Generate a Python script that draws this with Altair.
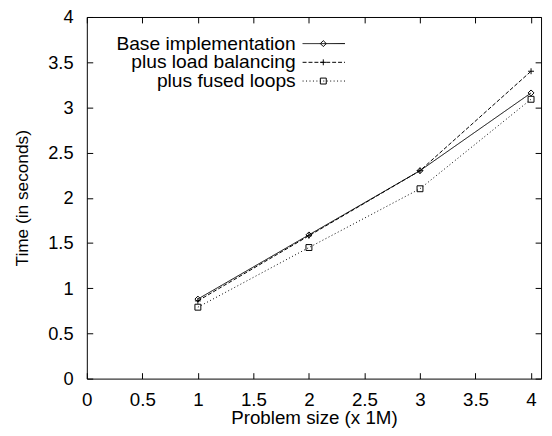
import altair as alt
import pandas as pd

sizes = [1, 2, 3, 4]
base_impl = [0.88, 1.59, 2.30, 3.16]
load_bal = [0.86, 1.58, 2.30, 3.40]
fused = [0.79, 1.45, 2.10, 3.09]
series_names = ["Base implementation", "plus load balancing", "plus fused loops"]
tick_vals = [0, 0.5, 1, 1.5, 2, 2.5, 3, 3.5, 4]

rows = []
for name, vals in zip(series_names, [base_impl, load_bal, fused]):
    for s, v in zip(sizes, vals):
        rows.append({"size": s, "time": v, "series": name})
df = pd.DataFrame(rows)

FONT = "Liberation Sans"
plus_path = "M-1,0L1,0M0,-1L0,1"
shapes = ["diamond", plus_path, "square"]
dashes = [[1, 0], [4, 2], [1, 2.5]]

xscale = alt.Scale(domain=[0, 4.09], nice=False, zero=False)
yscale = alt.Scale(domain=[0, 4], nice=False)

common_axis = dict(domain=False, grid=False, tickSize=6, offset=-6, tickColor="black",
                   tickWidth=1, labelColor="black", labelFont=FONT, titleFont=FONT,
                   titleColor="black", titleFontWeight="normal", values=tick_vals,
                   format="~g", labelFlush=False)

xaxis = alt.Axis(orient="bottom", labelFontSize=19, labelPadding=12, title="Problem size (x 1M)",
                 titleFontSize=19, titlePadding=0, **common_axis)
yaxis = alt.Axis(orient="left", labelFontSize=18.5, labelPadding=14, title="Time (in seconds)",
                 titleFontSize=17.5, titlePadding=16, **common_axis)
xaxis_top = alt.Axis(orient="top", labels=False, title=None, **common_axis)
yaxis_right = alt.Axis(orient="right", labels=False, title=None, **common_axis)

series_scale_dash = alt.Scale(domain=series_names, range=dashes)
series_scale_shape = alt.Scale(domain=series_names, range=shapes)

lines = alt.Chart(df).mark_line(color="black", strokeWidth=1).encode(
    x=alt.X("size:Q", scale=xscale, axis=xaxis),
    y=alt.Y("time:Q", scale=yscale, axis=yaxis),
    strokeDash=alt.StrokeDash("series:N", scale=series_scale_dash, legend=None),
    detail="series:N",
)

mirror = alt.Chart(df).mark_point(opacity=0).encode(
    x=alt.X("size:Q", scale=xscale, axis=xaxis_top),
    y=alt.Y("time:Q", scale=yscale, axis=yaxis_right),
)

points = alt.Chart(df).mark_point(color="black", filled=False, strokeWidth=1, size=36, opacity=1).encode(
    x=alt.X("size:Q", scale=xscale, axis=None),
    y=alt.Y("time:Q", scale=yscale, axis=None),
    shape=alt.Shape("series:N", scale=series_scale_shape, legend=None),
)

legend_layers = []
row_y = [27, 46, 65]
for i, name in enumerate(series_names):
    ldf = pd.DataFrame({"s": [name]})
    legend_layers.append(
        alt.Chart(ldf).mark_text(align="right", baseline="middle", font=FONT, fontSize=19.5,
                                 color="black").encode(
            x=alt.value(212), y=alt.value(row_y[i]), text="s:N")
    )
    legend_layers.append(
        alt.Chart(ldf).mark_rule(color="black", strokeWidth=1, strokeDash=dashes[i]).encode(
            x=alt.value(219), x2=alt.value(262), y=alt.value(row_y[i]))
    )
    legend_layers.append(
        alt.Chart(ldf).mark_point(color="black", filled=False, strokeWidth=1, size=36, opacity=1,
                                  shape=shapes[i]).encode(
            x=alt.value(240), y=alt.value(row_y[i]))
    )

chart = alt.layer(lines, mirror, points, *legend_layers).resolve_axis(
    x="independent", y="independent"
).properties(
    width=461, height=367,
    padding={"left": 80, "top": 6, "right": 3, "bottom": 47},
    autosize=alt.AutoSizeParams(type="none"),
    background="white",
).configure_view(stroke="black", strokeWidth=1)

chart.save("out.html", embed_options={"renderer": "svg", "actions": False})
